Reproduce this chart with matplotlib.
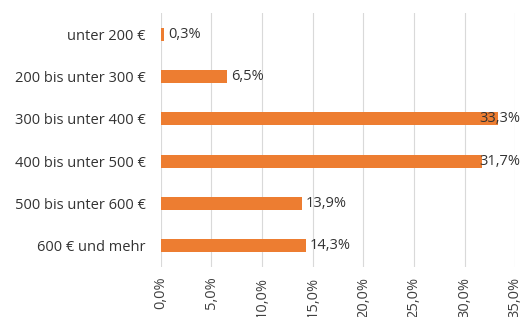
import matplotlib
matplotlib.use("Agg")
import matplotlib.pyplot as plt

categories = ["unter 200 €", "200 bis unter 300 €", "300 bis unter 400 €",
              "400 bis unter 500 €", "500 bis unter 600 €", "600 € und mehr"]
values = [0.3, 6.5, 33.3, 31.7, 13.9, 14.3]
xticks = [0, 5, 10, 15, 20, 25, 30, 35]
xtick_labels = ["0,0%", "5,0%", "10,0%", "15,0%", "20,0%", "25,0%", "30,0%", "35,0%"]

plt.rcParams['font.family'] = ['Open Sans', 'DejaVu Sans']

fig = plt.figure(figsize=(5.22, 3.17), dpi=100)
ax = fig.add_axes([0.308, 1 - 267/317, 0.987 - 0.308, (267 - 13)/317])

y = list(range(len(categories)))
ax.barh(y, values, height=0.3, color="#ED7D31", zorder=3)
ax.set_ylim(len(categories) - 0.5, -0.5)
ax.set_xlim(0, 35)
ax.set_yticks(y)
ax.set_yticklabels(categories, fontsize=10.5, color="#333333")
ax.set_xticks(xticks)
ax.set_xticklabels(xtick_labels, rotation=90, fontsize=10.5, color="#404040")
ax.tick_params(axis='x', length=0, pad=7)
ax.tick_params(axis='y', length=0, pad=11)
ax.grid(axis='x', color="#D9D9D9", linewidth=0.8, zorder=0)
for s in ax.spines.values():
    s.set_visible(False)

for yi, v in zip(y, values):
    lbl = f"{v:.1f}%".replace(".", ",")
    ax.text(min(v + 0.45, 31.5), yi, lbl, va='center', ha='left', fontsize=10.5,
            color="#333333", zorder=4)

fig.savefig("out.png", dpi=100)
